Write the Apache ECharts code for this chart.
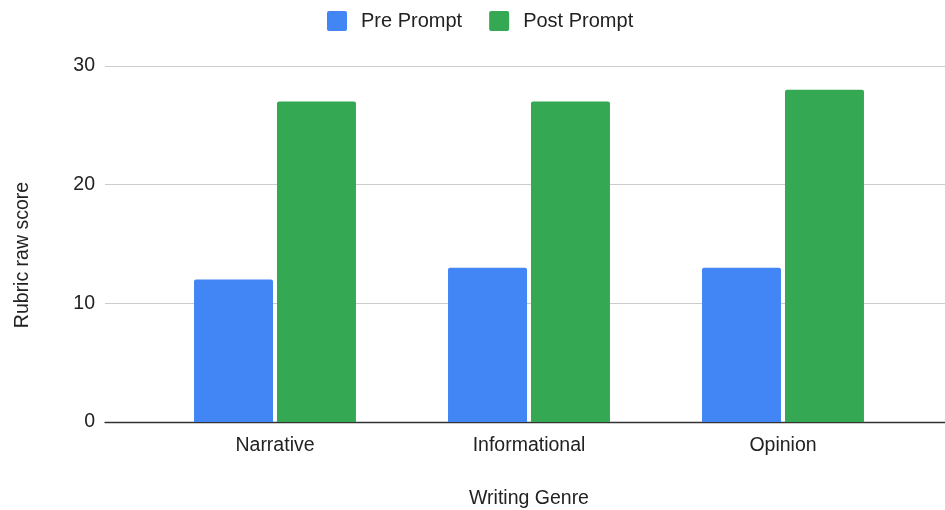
<!DOCTYPE html>
<html>
<head>
<meta charset="utf-8">
<script src="https://cdn.jsdelivr.net/npm/echarts@6/dist/echarts.min.js"></script>
<style>
  html, body { margin: 0; padding: 0; background: #fff; }
  #chart { width: 945px; height: 510px; }
</style>
</head>
<body>
<div id="chart"></div>
<script>
// Writing genres and rubric raw scores before / after the prompt
const categories = ['Narrative', 'Informational', 'Opinion'];
const prePrompt = [12, 13, 13];
const postPrompt = [27, 27, 28];
const yTicks = { min: 0, max: 30, interval: 10 };

const FONT = '"Liberation Sans", Arial, sans-serif';
const LABEL_SIZE = 19.5;
// small square with slightly rounded corners for the legend keys
const KEY_ICON = 'path://M2,0H18A2,2,0,0,1,20,2V18A2,2,0,0,1,18,20H2A2,2,0,0,1,0,18V2A2,2,0,0,1,2,0Z';

const chart = echarts.init(document.getElementById('chart'), null, { renderer: 'canvas' });

chart.setOption({
  animation: false,
  textStyle: { fontFamily: FONT },
  legend: {
    top: 6,
    left: 322,
    itemWidth: 20,
    itemHeight: 20,
    itemGap: 27,
    icon: KEY_ICON,
    textStyle: { fontSize: 20, color: '#222', fontFamily: FONT, padding: [0, 0, 0, 9] },
    data: ['Pre Prompt', 'Post Prompt']
  },
  grid: [
    // grid carrying the bars
    { left: 148, right: 35, top: 66, bottom: 88, outerBoundsMode: 'none' },
    // wider grid carrying the horizontal gridlines and y labels
    { left: 105, right: 0, top: 66, bottom: 88, outerBoundsMode: 'none' }
  ],
  xAxis: [
    {
      type: 'category',
      gridIndex: 0,
      data: categories,
      axisTick: { show: false },
      axisLine: { show: false },
      axisLabel: { fontSize: LABEL_SIZE, color: '#222', margin: 14, fontFamily: FONT },
      name: 'Writing Genre',
      nameLocation: 'middle',
      nameGap: 67,
      nameTextStyle: { fontSize: LABEL_SIZE, color: '#222', fontFamily: FONT }
    },
    {
      type: 'category',
      gridIndex: 1,
      data: categories,
      axisTick: { show: false },
      axisLabel: { show: false },
      axisLine: { show: true, lineStyle: { color: '#333', width: 1.3 } }
    }
  ],
  yAxis: [
    {
      type: 'value',
      gridIndex: 0,
      min: yTicks.min, max: yTicks.max, interval: yTicks.interval,
      axisLabel: { show: false },
      splitLine: { show: false },
      axisLine: { show: false },
      axisTick: { show: false }
    },
    {
      type: 'value',
      gridIndex: 1,
      min: yTicks.min, max: yTicks.max, interval: yTicks.interval,
      axisLabel: { fontSize: LABEL_SIZE, color: '#222', margin: 10, fontFamily: FONT, padding: [4, 0, 0, 0] },
      splitLine: { lineStyle: { color: '#cccccc', width: 1 } },
      axisLine: { show: false },
      axisTick: { show: false },
      name: 'Rubric raw score',
      nameLocation: 'middle',
      nameGap: 72,
      nameTextStyle: { fontSize: LABEL_SIZE, color: '#222', fontFamily: FONT, padding: [0, 22, 0, 0] }
    }
  ],
  series: [
    {
      name: 'Pre Prompt',
      type: 'bar',
      xAxisIndex: 0, yAxisIndex: 0,
      data: prePrompt,
      barWidth: 79,
      barGap: '5%',
      itemStyle: { color: '#4285F4', borderRadius: [2, 2, 0, 0] },
      z: 3
    },
    {
      name: 'Post Prompt',
      type: 'bar',
      xAxisIndex: 0, yAxisIndex: 0,
      data: postPrompt,
      barWidth: 79,
      barGap: '5%',
      itemStyle: { color: '#34A853', borderRadius: [2, 2, 0, 0] },
      z: 3
    }
  ]
});
</script>
</body>
</html>
